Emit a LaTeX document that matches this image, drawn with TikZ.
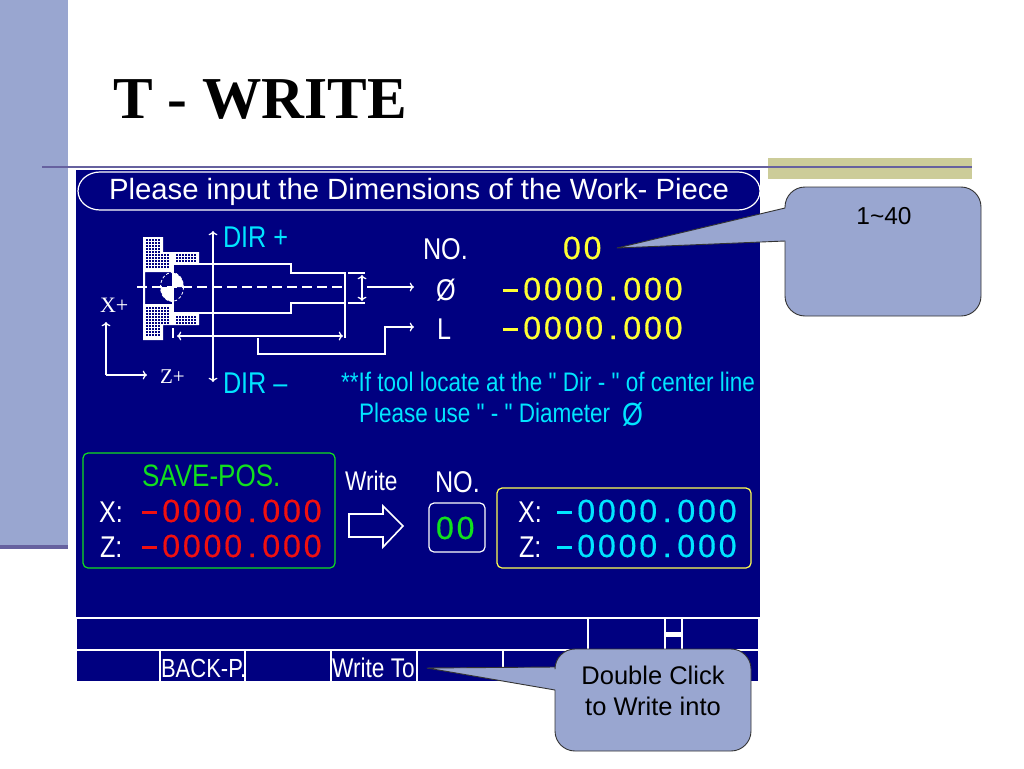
\documentclass[tikz,border=0pt]{standalone}
\usepackage{fontspec}
\setmainfont{Liberation Sans}
\newfontfamily\titlefont{Liberation Serif}
\newfontfamily\axisfont{Liberation Serif}
\newfontfamily\lcdfont[LetterSpace=9,FakeBold=0.5]{Liberation Sans}
\newfontfamily\slimfont[FakeStretch=0.84]{Liberation Sans}
\usetikzlibrary{arrows.meta, calc}
\definecolor{panelblue}{HTML}{000080}
\definecolor{bandblue}{HTML}{99A6D0}
\definecolor{rulepurple}{HTML}{66619F}
\definecolor{bandkhaki}{HTML}{CCCC99}
\definecolor{lcdcyan}{HTML}{00E5FF}
\definecolor{lcdyellow}{HTML}{FFFF33}
\definecolor{lcdgreen}{HTML}{11E01E}
\definecolor{lcdred}{HTML}{F01010}
\newcommand{\lcdval}{\rule[8.5pt]{15pt}{2.6pt}\hspace{5.3pt}0000\makebox[20.3pt]{.}000}
\tikzset{
  txt/.style={anchor=base west, inner sep=0pt, outer sep=0pt},
  lcd/.style={txt, font=\fontsize{32}{36}\lcdfont},
  slim/.style={txt, white, font=\fontsize{30}{32}\slimfont},
  note/.style={txt, lcdcyan, font=\fontsize{26.8}{28}\slimfont},
  callout/.style={draw=black!80, fill=bandblue, line width=0.9pt, line join=round},
  line/.style={white, line width=1.2pt}
}
\begin{document}
\begin{tikzpicture}[x=1pt,y=-1pt]
\useasboundingbox (0,0) rectangle (1024,768);
\fill[white] (0,0) rectangle (1024,768);
% slide background
\fill[bandblue] (0,0) rectangle (68,548);
\fill[rulepurple] (0,545) rectangle (68,549);
\fill[bandkhaki] (768,158) rectangle (972,179);
\draw[rulepurple, line width=1.4pt] (42,167)--(972,167);
\node[txt, font=\fontsize{59.4}{66}\titlefont\bfseries] (title) at (113,118) {T - WRITE};
% panel
\fill[panelblue] (76,170) rectangle (760,617);
\fill[panelblue] (77,617) rectangle (758,682);
\draw[line] (100,172)--(738,172) arc (-90:90:22 and 19)--(100,210) arc (90:270:22 and 19);
\node[txt, white, font=\fontsize{29.3}{32}\selectfont] (head) at (109,199) {Please input the Dimensions of the Work- Piece};
% chuck
\fill[white] (143,237)--(163,237)--(163,252)--(199,252)--(199,264)--(173,264)--(173,272)--(145,272)--(145,304)--(173,304)--(173,313)--(199,313)--(199,325)--(163,325)--(163,340)--(143,340)--cycle;
\foreach \i in {146,149,...,158} \foreach \j in {239,242,...,266} \fill[panelblue] (\i,\j) rectangle +(2,2);
\foreach \i in {161,164,167} \foreach \j in {254,257,...,266} \fill[panelblue] (\i,\j) rectangle +(2,2);
\foreach \i in {176,179,...,194} \foreach \j in {254,257,260} \fill[panelblue] (\i,\j) rectangle +(2,2);
\foreach \i in {146,149,...,158} \foreach \j in {307,310,...,336} \fill[panelblue] (\i,\j) rectangle +(2,2);
\foreach \i in {161,164,167} \foreach \j in {307,310,...,322} \fill[panelblue] (\i,\j) rectangle +(2,2);
\foreach \i in {176,179,...,194} \foreach \j in {316,319,322} \fill[panelblue] (\i,\j) rectangle +(2,2);
% work piece
\draw[line] (173,264)--(291,264)--(291,273)--(345,273)--(345,338);
\draw[line] (345,303)--(291,303)--(291,313)--(173,313)--(173,264);
\fill[white] (172,287)--(172,272.5) arc (-90:0:11.5 and 14.5)--cycle;
\fill[white] (172,287)--(172,301.5) arc (90:180:11.5 and 14.5)--cycle;
\draw[white, line width=0.8pt, dash pattern=on 3pt off 2pt] (172,287) ellipse (11.5 and 14.5);
\draw[white, line width=1.2pt, dash pattern=on 10pt off 5pt] (137,287)--(345,287);
\draw[line, <->] (213,231)--(213,382);
\node[note, font=\fontsize{30}{32}\slimfont] (dirp) at (223,247) {DIR +};
\node[note, font=\fontsize{30}{32}\slimfont] (dirm) at (223,393) {DIR –};
% dimensions
\draw[line] (348,273)--(365,273);
\draw[line] (348,303)--(365,303);
\draw[line, <->] (362,275)--(362,301);
\draw[line, <->] (177,336)--(343,336);
\draw[line] (173,328)--(173,338);
\node[slim] (no) at (423,259) {NO.};
\node[slim] (dia) at (436,300) {Ø};
\node[slim] (len) at (437,339) {L};
\coordinate (diafrom) at (367,287);
\coordinate (diato) at (414,287);
\coordinate (lenfrom) at (258,338);
\coordinate (lento) at (414,327);
\draw[line, ->] (diafrom)--(diato);
\draw[line, ->] (lenfrom)--(258,354)--(385,354)--(385,327)--(lento);
% axes
\coordinate (axo) at (106,375);
\draw[line, ->] (axo)--(106,322);
\draw[line, ->] (axo)--(147,375);
\node[txt, white, font=\fontsize{22}{24}\axisfont] (xplus) at (100,312) {X+};
\node[txt, white, font=\fontsize{21}{24}\axisfont] (zplus) at (160,383) {Z+};
% values
\node[lcd, lcdyellow] (noval) at (563,259) {00};
\node[lcd, lcdyellow] (diaval) at (503,300) {\lcdval};
\node[lcd, lcdyellow] (lenval) at (503,339) {\lcdval};
\node[note] (warn) at (341,391) {**If tool locate at the " Dir - " of center line};
\node[note] (warnb) at (359,422) {Please use " - " Diameter};
\node[note, font=\fontsize{32}{34}\slimfont] (warnd) at (622,425) {Ø};
% save boxes
\draw[lcdgreen, line width=1.2pt, rounded corners=5pt] (83,453) rectangle (335,568);
\node[txt, lcdgreen, font=\fontsize{31}{32}\slimfont] (save) at (142,486) {SAVE-POS.};
\node[slim] (sx) at (99,522) {X:};
\node[slim] (sz) at (100,557) {Z:};
\node[lcd, lcdred] (sxval) at (142,522) {\lcdval};
\node[lcd, lcdred] (szval) at (142,557) {\lcdval};
\node[txt, white, font=\fontsize{27}{28}\slimfont] (write) at (345,490) {Write};
\draw[line, line width=1.6pt, line join=miter] (349,514)--(383,514)--(383,506)--(403,526)--(383,547)--(383,537)--(349,537)--cycle;
\node[slim] (nob) at (435,492) {NO.};
\draw[white, line width=1.2pt, rounded corners=5pt] (429,503) rectangle (485,552);
\node[lcd, lcdgreen] (noboxval) at (436,539) {00};
\draw[lcdyellow!85!white, line width=1.2pt, rounded corners=5pt] (497,488) rectangle (751,568);
\node[slim] (tx) at (518,522) {X:};
\node[slim] (tz) at (519,557) {Z:};
\node[lcd, lcdcyan] (txval) at (557,522) {\lcdval};
\node[lcd, lcdcyan] (tzval) at (557,557) {\lcdval};
% soft keys
\draw[line] (77,618)--(758,618);
\draw[line] (77,650)--(758,650);
\draw[line] (77,682)--(758,682);
\foreach \i in {588,665,682} \draw[line] (\i,618)--(\i,650);
\foreach \i in {160,245,331,417,503} \draw[line] (\i,650)--(\i,682);
\fill[white] (665,632) rectangle (682,637);
\node[txt, white, font=\fontsize{26.2}{28}\slimfont] (back) at (161,677) {BACK-P.};
\node[txt, white, font=\fontsize{27}{28}\slimfont] (wto) at (332,677) {Write To};
% callouts
\draw[callout] (617,248)--(785,208)--(785,207) arc (-180:-90:20)--(961,187) arc (-90:0:20)--(981,296) arc (0:90:20)--(805,316) arc (90:180:20)--(785,241)--cycle;
\draw[callout] (427,668)--(555,667)--(555,669) arc (-180:-90:20)--(731,649) arc (-90:0:20)--(751,731) arc (0:90:20)--(575,751) arc (90:180:20)--(555,690)--cycle;
\node[txt, anchor=base, font=\fontsize{24.5}{26}\selectfont] (rng) at (884,224) {1\char`~40};
\node[txt, anchor=base, font=\fontsize{25.5}{28}\selectfont] (dbl) at (653,684) {Double Click};
\node[txt, anchor=base, font=\fontsize{25.5}{28}\selectfont] (twi) at (653,715) {to Write into};
\end{tikzpicture}
\end{document}
